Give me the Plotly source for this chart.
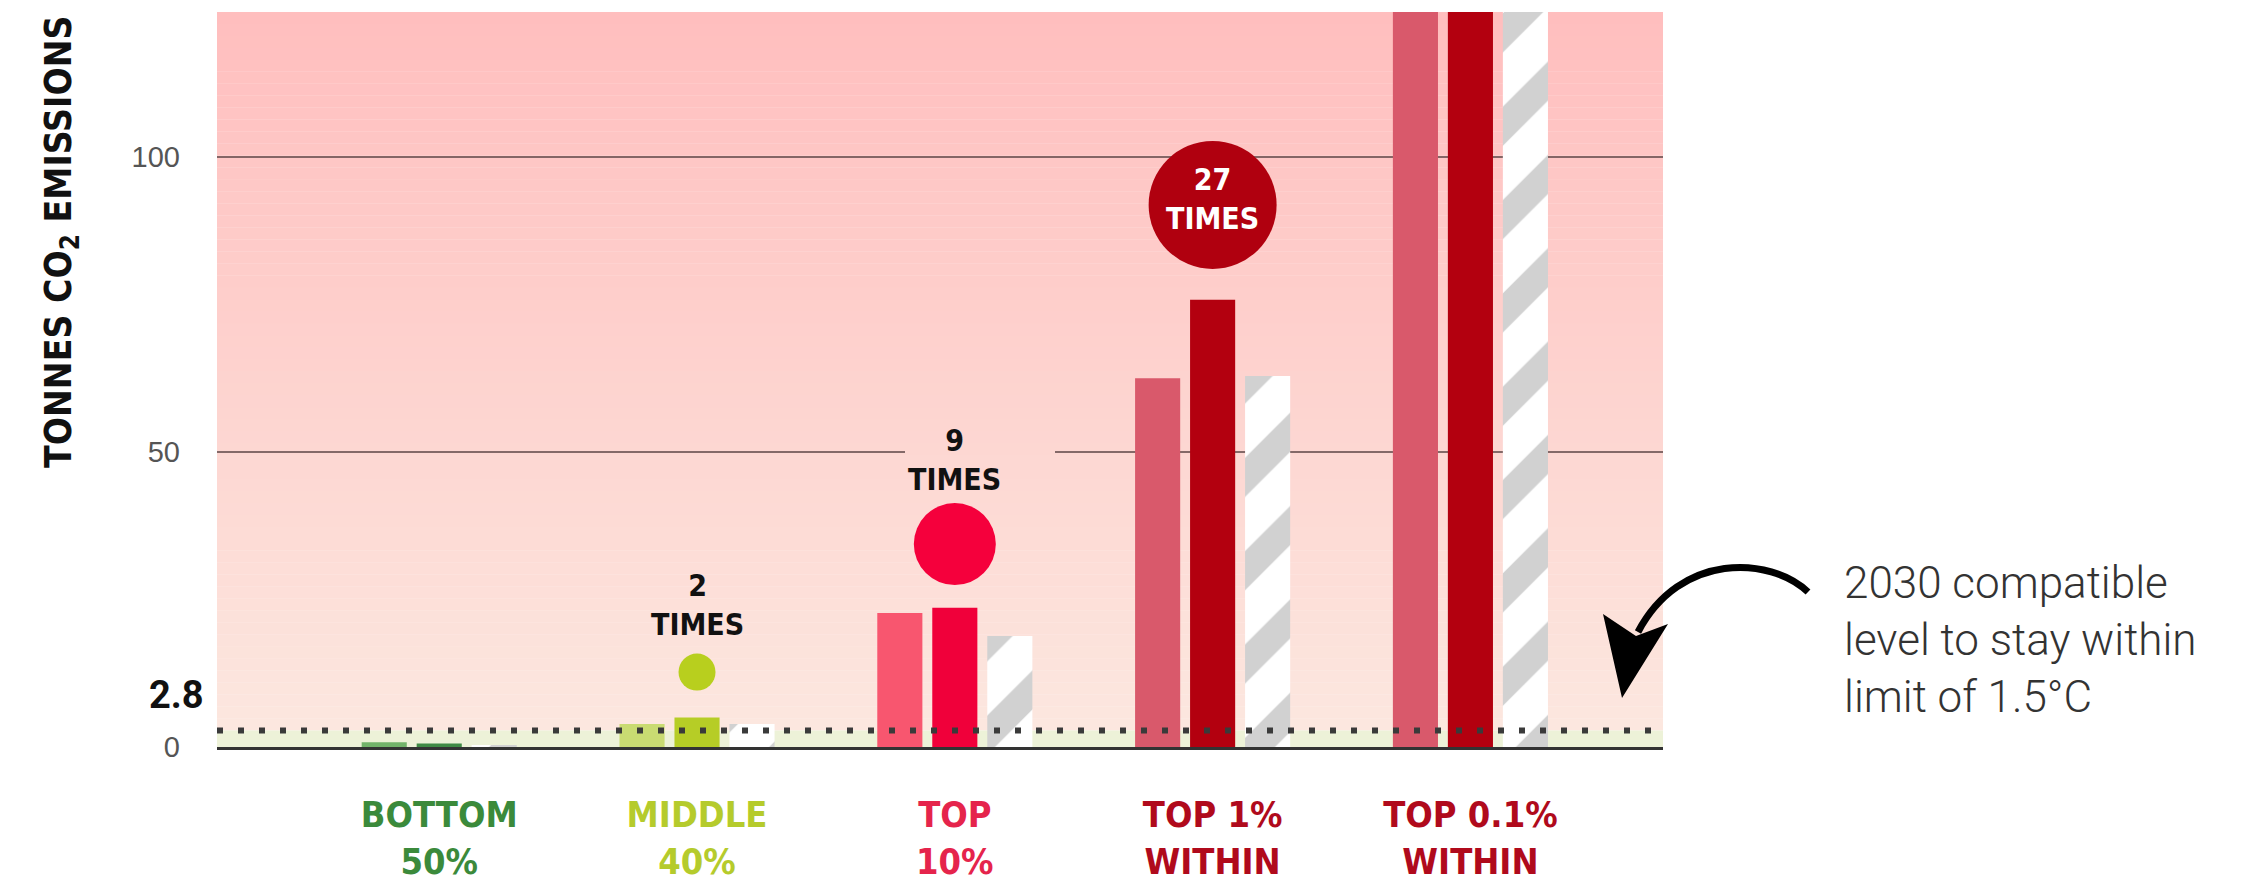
import plotly.graph_objects as go

# income groups and per-capita emissions (tonnes CO2)
groups = ["BOTTOM 50%", "MIDDLE 40%", "TOP 10%", "TOP 1% WITHIN", "TOP 0.1% WITHIN"]
tick_labels = ["BOTTOM<br>50%", "MIDDLE<br>40%", "TOP<br>10%", "TOP 1%<br>WITHIN", "TOP 0.1%<br>WITHIN"]
light_vals = [0.8, 3.9, 22.7, 62.5, 214]
dark_vals = [0.6, 5.0, 23.6, 75.8, 230]
hatched_vals = [0.3, 3.9, 18.8, 62.9, 214]
budget = 2.8
y_ticks = [0, 50, 100]
badge_groups = ["MIDDLE 40%", "TOP 10%", "TOP 1% WITHIN"]
badge_labels = ["2<br>TIMES", "9<br>TIMES", "27<br>TIMES"]
note_text = "2030 compatible<br>level to stay within<br>limit of 1.5°C"

W, H = 2243, 893
PAGE = 8                                   # default body margin of the html page
X0, X1, Y0, Y1 = 217, 1663, 12, 747        # plot box in page pixels
YMAX = 124.6
NARROW = "DejaVu Sans Condensed, DejaVu Sans, sans-serif"

label_colors = ["#3b8a3b", "#b5cb2c", "#e5244c", "#b00a1c", "#b00a1c"]
light_colors = ["#72b36a", "#c9db72", "#f8566f", "#d9596b", "#d9596b"]
dark_colors = ["#3f8a45", "#b6cd26", "#f0003a", "#b3000f", "#b3000f"]


def px_x(p):
    return (p - X0) / (X1 - X0)


def px_y(p):
    return (Y1 - p) / (Y1 - Y0)


def grad(t):
    top, bot = (255, 190, 190), (252, 231, 223)
    c = [round(b + (a - b) * t) for a, b in zip(top, bot)]
    return "rgb(%d,%d,%d)" % tuple(c)


fig = go.Figure()

fig.add_trace(go.Bar(x=groups, y=light_vals, name="light",
                     marker=dict(color=light_colors, line_width=0)))
fig.add_trace(go.Bar(x=groups, y=dark_vals, name="dark",
                     marker=dict(color=dark_colors, line_width=0)))
fig.add_trace(go.Bar(x=groups, y=hatched_vals, name="hatched",
                     marker=dict(color="white", line_width=0,
                                 pattern=dict(shape="/", fgcolor="#a3a3a3", bgcolor="white",
                                              size=66, solidity=0.42))))

# "x TIMES" badges
fig.add_trace(go.Scatter(x=badge_groups, y=[12.7, 34.4, 91.9], mode="markers",
                         marker=dict(size=[37, 82, 128], color=["#b8cf1e", "#f5003c", "#b0000f"],
                                     line_width=0, opacity=1),
                         hoverinfo="skip", showlegend=False))

shapes = []
# gradient background
n = 60
step = (YMAX - budget) / n
for i in range(n):
    shapes.append(dict(type="rect", xref="paper", yref="y", x0=0, x1=1,
                       y0=budget + i * step, y1=budget + (i + 1) * step + 0.05,
                       fillcolor=grad((i + 0.5) / n), line_width=0, layer="below"))
shapes.append(dict(type="rect", xref="paper", yref="y", x0=0, x1=1, y0=0, y1=budget,
                   fillcolor="#edf2d8", line_width=0, layer="below"))

# gridlines (the 50 line breaks around the "9 TIMES" label)
grid = dict(color="#5b4545", width=1.5)
for v in y_ticks[1:]:
    segs = [(0, px_x(905)), (px_x(1055), 1)] if v == 50 else [(0, 1)]
    for a, b in segs:
        shapes.append(dict(type="line", xref="paper", yref="y", x0=a, x1=b, y0=v, y1=v,
                           line=grid, layer="below"))

# dotted 1.5C line
shapes.append(dict(type="line", xref="paper", yref="y", x0=0, x1=1, y0=budget, y1=budget,
                   line=dict(color="#3a3a3a", width=6, dash="6px,15px"), layer="above"))


# curved arrow
def path(cmds):
    out = []
    for c, pts in cmds:
        out.append(c + " " + " ".join("%.5f,%.5f" % (px_x(a), px_y(b)) for a, b in pts))
    return " ".join(out)


shapes.append(dict(type="path", xref="paper", yref="paper",
                   path=path([("M", [(1808, 592)]), ("C", [(1770, 556), (1680, 552), (1638, 632)])]),
                   line=dict(color="black", width=7), fillcolor="rgba(0,0,0,0)"))
shapes.append(dict(type="path", xref="paper", yref="paper",
                   path=path([("M", [(1622, 698)]), ("L", [(1603, 614)]), ("L", [(1636, 636)]),
                              ("L", [(1668, 624)])]) + " Z",
                   line_width=0, fillcolor="black"))

annotations = [
    dict(xref="paper", yref="paper", x=px_x(61), y=px_y(242), xanchor="center", yanchor="middle",
         textangle=-90, text="<b>TONNES CO<sub>2</sub> EMISSIONS</b>", showarrow=False,
         font=dict(family=NARROW, size=37, color="#111")),
    dict(xref="paper", yref="y", x=px_x(206), y=8.8, xanchor="right", yanchor="middle",
         text="<b>2.8</b>", showarrow=False, font=dict(family="Roboto", size=38, color="#111")),
    dict(xref="paper", yref="paper", x=px_x(1842), y=px_y(640), xanchor="left", yanchor="middle",
         align="left", text=note_text, showarrow=False,
         font=dict(family="Roboto", size=44, color="#333", weight=300)),
]
badge_pos = [(24.1, "#111"), (48.6, "#111"), (92.9, "white")]
for g, txt, (yy, col) in zip(badge_groups, badge_labels, badge_pos):
    annotations.append(dict(x=g, y=yy, yanchor="middle", text="<b>%s</b>" % txt, showarrow=False,
                            font=dict(family=NARROW, size=30, color=col)))

fig.update_layout(
    width=W, height=H,
    margin=dict(l=X0 - PAGE, r=W - X1 + PAGE, t=Y0 - PAGE, b=H - Y1 + PAGE),
    paper_bgcolor="white", plot_bgcolor="white",
    barmode="group", bargap=0.36, bargroupgap=0.18,
    showlegend=False,
    shapes=shapes, annotations=annotations,
    xaxis=dict(range=[-0.862, 4.747], tickvals=groups,
               ticktext=['<span style="color:%s"><b>%s</b></span>' % (c, t)
                         for c, t in zip(label_colors, tick_labels)],
               tickfont=dict(family=NARROW, size=36), ticks="", ticklabelstandoff=34,
               showline=True, linecolor="#333", linewidth=3, showgrid=False, zeroline=False),
    yaxis=dict(range=[0, YMAX], tickvals=y_ticks, ticks="", ticklabelstandoff=36,
               tickfont=dict(family="Liberation Sans", size=29, color="#555"),
               showgrid=False, zeroline=False, showline=False),
)

fig.write_html("out.html")
